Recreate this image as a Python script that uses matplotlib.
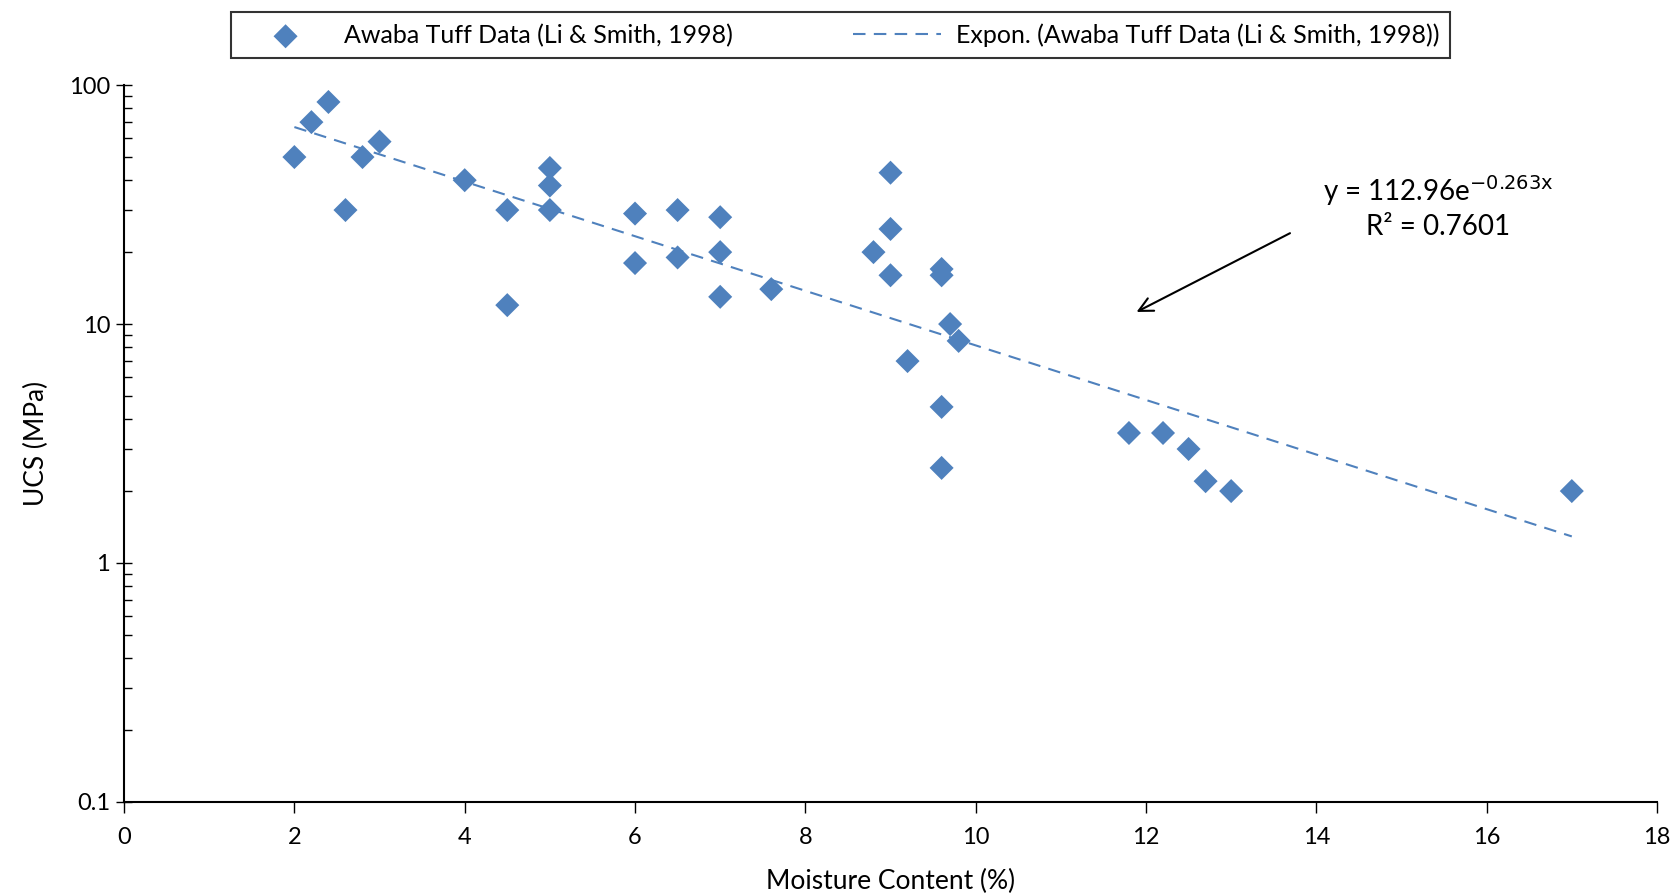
import matplotlib.pyplot as plt
import numpy as np
from matplotlib.ticker import LogLocator, FixedLocator, NullFormatter

plt.rcParams['font.family'] = ['Lato', 'DejaVu Sans']

# Awaba Tuff data
moisture = [2.0, 2.2, 2.4, 2.6, 2.8, 3.0, 4.0, 4.5, 4.5, 5.0, 5.0, 5.0,
            6.0, 6.0, 6.5, 6.5, 7.0, 7.0, 7.0, 7.6, 8.8, 9.0, 9.0, 9.0,
            9.2, 9.6, 9.6, 9.7, 9.8, 9.6, 9.6, 11.8, 12.2, 12.5, 12.7,
            13.0, 17.0]
ucs = [50, 70, 85, 30, 50, 58, 40, 30, 12, 45, 38, 30,
       29, 18, 30, 19, 28, 20, 13, 14, 20, 43, 25, 16,
       7, 17, 16, 10, 8.5, 4.5, 2.5, 3.5, 3.5, 3.0, 2.2,
       2.0, 2.0]

# exponential trend as reported
fit_a = 112.96
fit_b = -0.263

blue = '#4f81bd'

fig = plt.figure(figsize=(16.81, 8.96), dpi=100)
ax = fig.add_axes([0.0738, 0.105, 0.9119, 0.800])

ax.scatter(moisture, ucs, marker='D', s=150, color=blue, edgecolors='none',
           label='Awaba Tuff Data (Li & Smith, 1998)', zorder=3)

xt = np.linspace(min(moisture), max(moisture), 200)
ax.plot(xt, fit_a * np.exp(fit_b * xt), color=blue, lw=1.5,
        dashes=(6, 4), label='Expon. (Awaba Tuff Data (Li & Smith, 1998))')

ax.set_yscale('log')
ax.set_xlim(0, 18)
ax.set_ylim(0.1, 100)
ax.set_xticks(range(0, 19, 2))
ax.yaxis.set_major_locator(FixedLocator([0.1, 1, 10, 100]))
ax.set_yticklabels(['0.1', '1', '10', '100'])
ax.yaxis.set_minor_locator(LogLocator(base=10, subs=np.arange(2, 10)))
ax.yaxis.set_minor_formatter(NullFormatter())

for s in ['top', 'right']:
    ax.spines[s].set_visible(False)
for s in ['left', 'bottom']:
    ax.spines[s].set_linewidth(1.5)

ax.tick_params(axis='x', direction='out', length=8, width=1, labelsize=17, pad=10)
ax.tick_params(axis='y', which='major', direction='inout', length=12, width=1,
               labelsize=17, pad=4)
ax.tick_params(axis='y', which='minor', direction='in', length=6, width=1)

ax.set_xlabel('Moisture Content (%)', fontsize=19, labelpad=15)
ax.set_ylabel('UCS (MPa)', fontsize=19, labelpad=14)

ax.text(15.43, 31, 'y = 112.96e$^{\\mathrm{-0.263x}}$\nR² = 0.7601', fontsize=20,
        ha='center', va='center', linespacing=1.3)
ax.annotate('', xy=(11.86, 11.1), xytext=(13.72, 24.3),
            arrowprops=dict(arrowstyle='->', color='black', lw=1.5,
                            mutation_scale=25))

leg = fig.legend(loc='upper center', bbox_to_anchor=(0.5, 0.995), ncol=2,
                 fontsize=18, frameon=True, fancybox=False, edgecolor='black',
                 columnspacing=4.8, handlelength=3.5, borderpad=0.45,
                 borderaxespad=0.3, handletextpad=0.6, scatterpoints=1)
leg.get_frame().set_linewidth(1.5)

fig.savefig('out.png', dpi=100)
